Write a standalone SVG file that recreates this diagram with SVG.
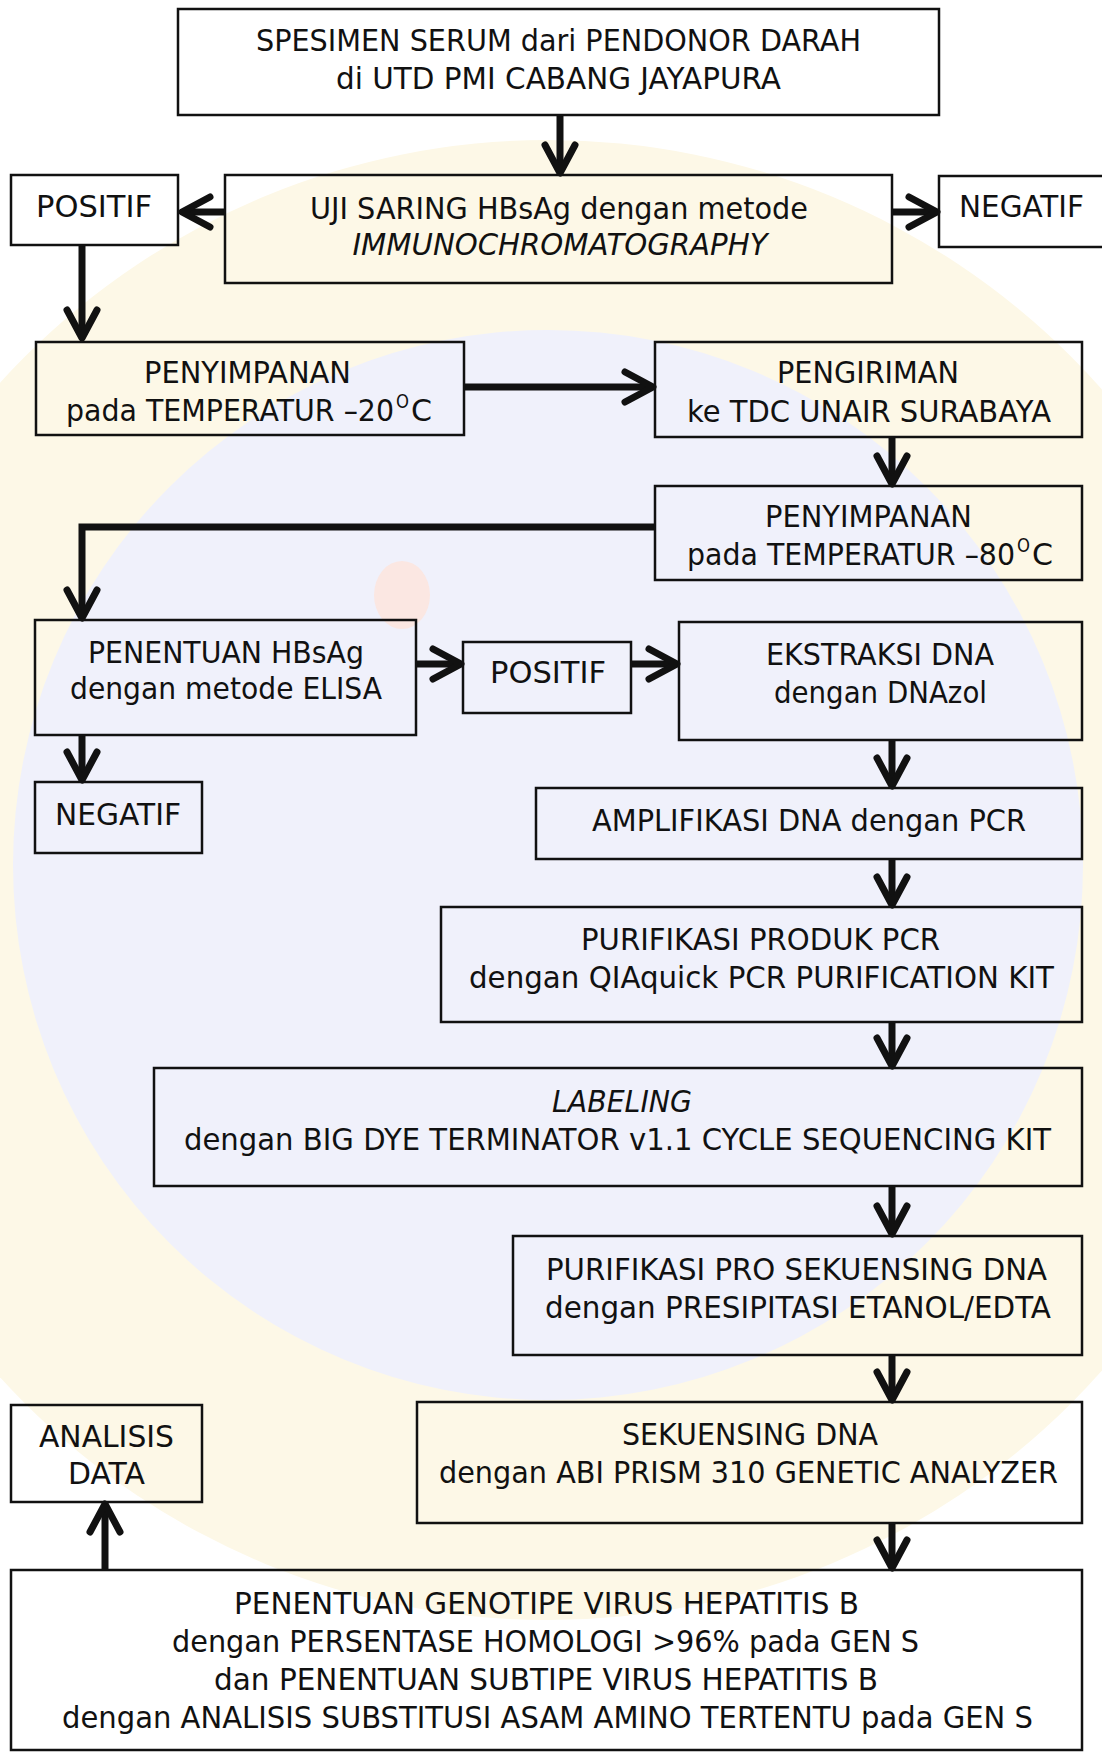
<svg xmlns="http://www.w3.org/2000/svg" width="1102" height="1752" viewBox="0 0 1102 1752">
<style>
.box{fill:none;stroke:#111;stroke-width:2.5}
.t{font-family:"DejaVu Sans","Liberation Sans",sans-serif;font-size:30px;fill:#111;text-anchor:middle}
.s{text-anchor:start}
.i{font-style:italic}
.c{fill:none;stroke:#111;stroke-width:7}
.sup{font-size:19px}
</style>
<defs>
<marker id="ah" markerUnits="userSpaceOnUse" viewBox="-40 -20 46 40" markerWidth="46" markerHeight="40" refX="-4" refY="0" orient="auto">
<path d="M-30,-15 L-2,0 L-30,15" fill="none" stroke="#111" stroke-width="7" stroke-linecap="round" stroke-linejoin="round"/>
</marker>
</defs>
<rect width="1102" height="1752" fill="#ffffff"/>
<g id="watermark">
<circle cx="548" cy="880" r="740" fill="#fdf8e7"/>
<circle cx="548" cy="865" r="535" fill="#f0f1fb"/>
<ellipse cx="402" cy="595" rx="28" ry="34" fill="#fbe7e2"/>
</g>
<g id="connectors">
<path class="c" d="M560,115 V171" marker-end="url(#ah)"/>
<path class="c" d="M225,212 H184" marker-end="url(#ah)"/>
<path class="c" d="M892,212 H935" marker-end="url(#ah)"/>
<path class="c" d="M82,245 V336" marker-end="url(#ah)"/>
<path class="c" d="M464,387 H651" marker-end="url(#ah)"/>
<path class="c" d="M892,437 V482" marker-end="url(#ah)"/>
<path class="c" d="M655,527 H82 V616" marker-end="url(#ah)"/>
<path class="c" d="M416,664 H459" marker-end="url(#ah)"/>
<path class="c" d="M631,664 H675" marker-end="url(#ah)"/>
<path class="c" d="M892,740 V784" marker-end="url(#ah)"/>
<path class="c" d="M82,735 V778" marker-end="url(#ah)"/>
<path class="c" d="M892,859 V903" marker-end="url(#ah)"/>
<path class="c" d="M892,1022 V1064" marker-end="url(#ah)"/>
<path class="c" d="M892,1186 V1232" marker-end="url(#ah)"/>
<path class="c" d="M892,1355 V1398" marker-end="url(#ah)"/>
<path class="c" d="M892,1523 V1566" marker-end="url(#ah)"/>
<path class="c" d="M105,1570 V1506" marker-end="url(#ah)"/>
</g>
<g id="n-spesimen">
<rect class="box" x="178" y="9" width="761" height="106"/>
<text class="t" x="558.5" y="51" textLength="605" lengthAdjust="spacingAndGlyphs">SPESIMEN SERUM dari PENDONOR DARAH</text>
<text class="t" x="558.5" y="89" textLength="445" lengthAdjust="spacingAndGlyphs">di UTD PMI CABANG JAYAPURA</text>
</g>
<g id="n-uji">
<rect class="box" x="225" y="175" width="667" height="108"/>
<text class="t" x="559" y="219" textLength="498" lengthAdjust="spacingAndGlyphs">UJI SARING HBsAg dengan metode</text>
<text class="t i" x="560" y="255" textLength="415" lengthAdjust="spacingAndGlyphs">IMMUNOCHROMATOGRAPHY</text>
</g>
<g id="n-positif1">
<rect class="box" x="11" y="175" width="167" height="70"/>
<text class="t" x="94" y="217" textLength="116" lengthAdjust="spacingAndGlyphs">POSITIF</text>
</g>
<g id="n-negatif1">
<rect class="box" x="939" y="176" width="170" height="71"/>
<text class="t" x="1021.5" y="217" textLength="125" lengthAdjust="spacingAndGlyphs">NEGATIF</text>
</g>
<g id="n-simpan20">
<rect class="box" x="36" y="342" width="428" height="93"/>
<text class="t" x="247.5" y="383" textLength="207" lengthAdjust="spacingAndGlyphs">PENYIMPANAN</text>
<text class="t s" x="66" y="421" textLength="328" lengthAdjust="spacingAndGlyphs">pada TEMPERATUR –20</text>
<text class="t s sup" x="396" y="408" textLength="13" lengthAdjust="spacingAndGlyphs">O</text>
<text class="t s" x="411" y="421" textLength="21" lengthAdjust="spacingAndGlyphs">C</text>
</g>
<g id="n-kirim">
<rect class="box" x="655" y="342" width="427" height="95"/>
<text class="t" x="868" y="383" textLength="182" lengthAdjust="spacingAndGlyphs">PENGIRIMAN</text>
<text class="t" x="869" y="422" textLength="364" lengthAdjust="spacingAndGlyphs">ke TDC UNAIR SURABAYA</text>
</g>
<g id="n-simpan80">
<rect class="box" x="655" y="486" width="427" height="94"/>
<text class="t" x="868.5" y="527" textLength="207" lengthAdjust="spacingAndGlyphs">PENYIMPANAN</text>
<text class="t s" x="687" y="565" textLength="328" lengthAdjust="spacingAndGlyphs">pada TEMPERATUR –80</text>
<text class="t s sup" x="1017" y="552" textLength="13" lengthAdjust="spacingAndGlyphs">O</text>
<text class="t s" x="1032" y="565" textLength="21" lengthAdjust="spacingAndGlyphs">C</text>
</g>
<g id="n-elisa">
<rect class="box" x="35" y="620" width="381" height="115"/>
<text class="t" x="226" y="663" textLength="276" lengthAdjust="spacingAndGlyphs">PENENTUAN HBsAg</text>
<text class="t" x="226" y="699" textLength="312" lengthAdjust="spacingAndGlyphs">dengan metode ELISA</text>
</g>
<g id="n-positif2">
<rect class="box" x="463" y="642" width="168" height="71"/>
<text class="t" x="548" y="683" textLength="116" lengthAdjust="spacingAndGlyphs">POSITIF</text>
</g>
<g id="n-ekstraksi">
<rect class="box" x="679" y="622" width="403" height="118"/>
<text class="t" x="880" y="665" textLength="228" lengthAdjust="spacingAndGlyphs">EKSTRAKSI DNA</text>
<text class="t" x="880.5" y="703" textLength="213" lengthAdjust="spacingAndGlyphs">dengan DNAzol</text>
</g>
<g id="n-negatif2">
<rect class="box" x="35" y="782" width="167" height="71"/>
<text class="t" x="118" y="825" textLength="126" lengthAdjust="spacingAndGlyphs">NEGATIF</text>
</g>
<g id="n-amplifikasi">
<rect class="box" x="536" y="788" width="546" height="71"/>
<text class="t" x="809" y="831" textLength="434" lengthAdjust="spacingAndGlyphs">AMPLIFIKASI DNA dengan PCR</text>
</g>
<g id="n-purifikasi-pcr">
<rect class="box" x="441" y="907" width="641" height="115"/>
<text class="t" x="760.5" y="950" textLength="359" lengthAdjust="spacingAndGlyphs">PURIFIKASI PRODUK PCR</text>
<text class="t" x="761.5" y="988" textLength="585" lengthAdjust="spacingAndGlyphs">dengan QIAquick PCR PURIFICATION KIT</text>
</g>
<g id="n-labeling">
<rect class="box" x="154" y="1068" width="928" height="118"/>
<text class="t i" x="622" y="1112" textLength="140" lengthAdjust="spacingAndGlyphs">LABELING</text>
<text class="t" x="617.5" y="1150" textLength="867" lengthAdjust="spacingAndGlyphs">dengan BIG DYE TERMINATOR v1.1 CYCLE SEQUENCING KIT</text>
</g>
<g id="n-purifikasi-pro">
<rect class="box" x="513" y="1236" width="569" height="119"/>
<text class="t" x="796.5" y="1280" textLength="501" lengthAdjust="spacingAndGlyphs">PURIFIKASI PRO SEKUENSING DNA</text>
<text class="t" x="798" y="1318" textLength="506" lengthAdjust="spacingAndGlyphs">dengan PRESIPITASI ETANOL/EDTA</text>
</g>
<g id="n-sekuensing">
<rect class="box" x="417" y="1402" width="665" height="121"/>
<text class="t" x="750" y="1445" textLength="256" lengthAdjust="spacingAndGlyphs">SEKUENSING DNA</text>
<text class="t" x="748.5" y="1483" textLength="619" lengthAdjust="spacingAndGlyphs">dengan ABI PRISM 310 GENETIC ANALYZER</text>
</g>
<g id="n-analisis">
<rect class="box" x="11" y="1405" width="191" height="97"/>
<text class="t" x="106.5" y="1447" textLength="135" lengthAdjust="spacingAndGlyphs">ANALISIS</text>
<text class="t" x="106.5" y="1484" textLength="77" lengthAdjust="spacingAndGlyphs">DATA</text>
</g>
<g id="n-genotipe">
<rect class="box" x="11" y="1570" width="1071" height="180"/>
<text class="t" x="546.5" y="1614" textLength="625" lengthAdjust="spacingAndGlyphs">PENENTUAN GENOTIPE VIRUS HEPATITIS B</text>
<text class="t" x="545.5" y="1652" textLength="747" lengthAdjust="spacingAndGlyphs">dengan PERSENTASE HOMOLOGI &gt;96% pada GEN S</text>
<text class="t" x="546" y="1690" textLength="664" lengthAdjust="spacingAndGlyphs">dan PENENTUAN SUBTIPE VIRUS HEPATITIS B</text>
<text class="t" x="547.5" y="1728" textLength="971" lengthAdjust="spacingAndGlyphs">dengan ANALISIS SUBSTITUSI ASAM AMINO TERTENTU pada GEN S</text>
</g>
</svg>
